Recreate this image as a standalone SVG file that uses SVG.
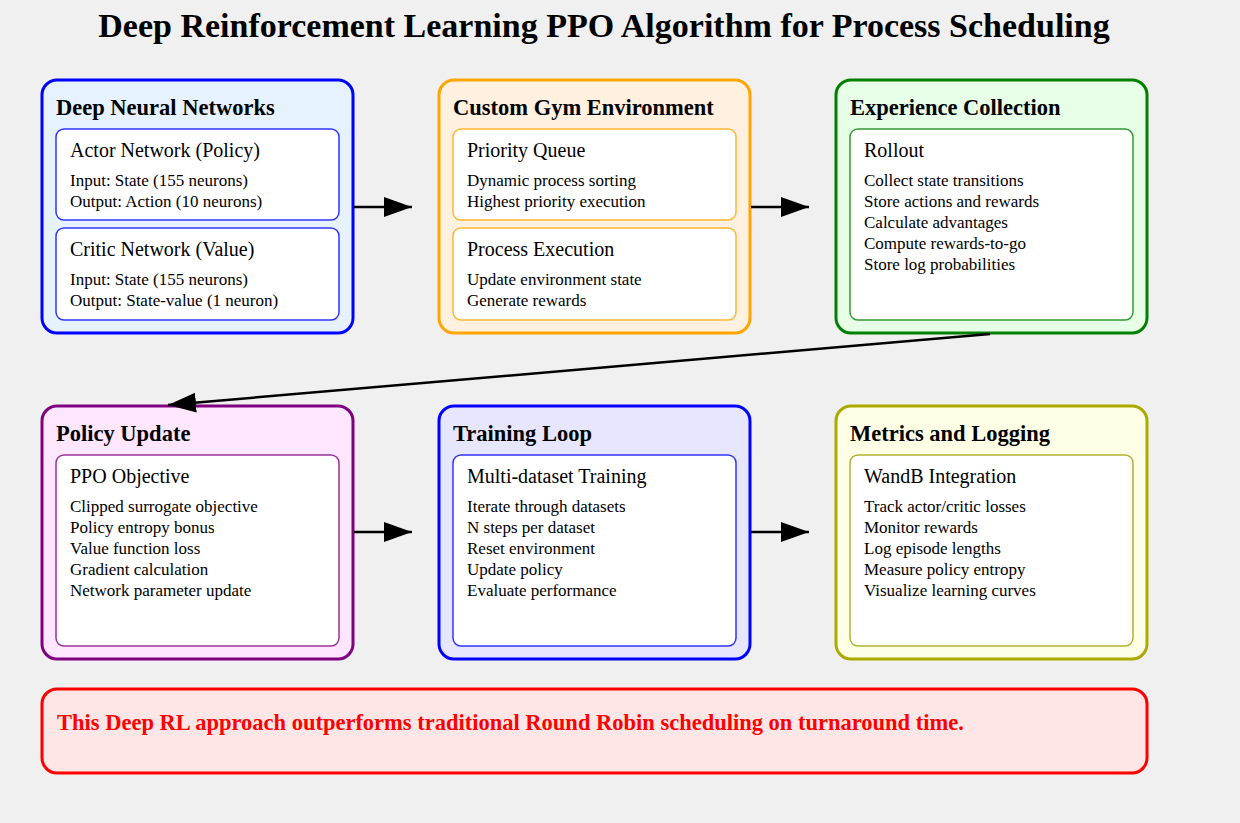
<svg xmlns="http://www.w3.org/2000/svg" width="1240" height="823" viewBox="0 0 1240 823">
  <style>
    text { font-family: "Liberation Serif", "Times New Roman", serif; fill: #000; }
    .title { font-size: 34px; font-weight: bold; }
    .box-title { font-size: 22.5px; font-weight: bold; }
    .sub-title { font-size: 20px; }
    .item { font-size: 17px; }
    .outer { stroke-width: 3; }
    .inner { fill: #ffffff; stroke-width: 1.5; }
    .conn { stroke: #000; stroke-width: 2.5; fill: none; marker-end: url(#arrow); }
    .note { font-size: 22.5px; font-weight: bold; fill: #ff0000; }
  </style>
  <defs>
    <marker id="arrow" markerUnits="userSpaceOnUse" markerWidth="30" markerHeight="22" refX="28" refY="10" orient="auto">
      <path d="M0,0 L28,10 L0,20 Z" fill="#000"/>
    </marker>
  </defs>

  <rect width="1240" height="823" fill="#f0f0f0"/>

  <text class="title" x="604" y="37" text-anchor="middle">Deep Reinforcement Learning PPO Algorithm for Process Scheduling</text>

  <!-- Row 1 -->
  <g id="neural-networks">
    <rect class="outer" x="42" y="80" width="311" height="253" rx="15" fill="#e6f2ff" stroke="#0000ff"/>
    <text class="box-title" x="56" y="115">Deep Neural Networks</text>
    <rect class="inner" x="56" y="129" width="283" height="91" rx="8" stroke="#3333ff"/>
    <text class="sub-title" x="70" y="157">Actor Network (Policy)</text>
    <text class="item" x="70" y="186">Input: State (155 neurons)</text>
    <text class="item" x="70" y="207">Output: Action (10 neurons)</text>
    <rect class="inner" x="56" y="228" width="283" height="92" rx="8" stroke="#3333ff"/>
    <text class="sub-title" x="70" y="256">Critic Network (Value)</text>
    <text class="item" x="70" y="285">Input: State (155 neurons)</text>
    <text class="item" x="70" y="306">Output: State-value (1 neuron)</text>
  </g>

  <g id="gym-environment">
    <rect class="outer" x="439" y="80" width="311" height="253" rx="15" fill="#fff0e0" stroke="#ffa500"/>
    <text class="box-title" x="453" y="115">Custom Gym Environment</text>
    <rect class="inner" x="453" y="129" width="283" height="91" rx="8" stroke="#ffb733"/>
    <text class="sub-title" x="467" y="157">Priority Queue</text>
    <text class="item" x="467" y="186">Dynamic process sorting</text>
    <text class="item" x="467" y="207">Highest priority execution</text>
    <rect class="inner" x="453" y="228" width="283" height="92" rx="8" stroke="#ffb733"/>
    <text class="sub-title" x="467" y="256">Process Execution</text>
    <text class="item" x="467" y="285">Update environment state</text>
    <text class="item" x="467" y="306">Generate rewards</text>
  </g>

  <g id="experience-collection">
    <rect class="outer" x="836" y="80" width="311" height="253" rx="15" fill="#e6ffe6" stroke="#008000"/>
    <text class="box-title" x="850" y="115">Experience Collection</text>
    <rect class="inner" x="850" y="129" width="283" height="191" rx="8" stroke="#339933"/>
    <text class="sub-title" x="864" y="157">Rollout</text>
    <text class="item" x="864" y="186">Collect state transitions</text>
    <text class="item" x="864" y="207">Store actions and rewards</text>
    <text class="item" x="864" y="228">Calculate advantages</text>
    <text class="item" x="864" y="249">Compute rewards-to-go</text>
    <text class="item" x="864" y="270">Store log probabilities</text>
  </g>

  <!-- Row 2 -->
  <g id="policy-update">
    <rect class="outer" x="42" y="406" width="311" height="253" rx="15" fill="#ffe6ff" stroke="#800080"/>
    <text class="box-title" x="56" y="441">Policy Update</text>
    <rect class="inner" x="56" y="455" width="283" height="191" rx="8" stroke="#993399"/>
    <text class="sub-title" x="70" y="483">PPO Objective</text>
    <text class="item" x="70" y="512">Clipped surrogate objective</text>
    <text class="item" x="70" y="533">Policy entropy bonus</text>
    <text class="item" x="70" y="554">Value function loss</text>
    <text class="item" x="70" y="575">Gradient calculation</text>
    <text class="item" x="70" y="596">Network parameter update</text>
  </g>

  <g id="training-loop">
    <rect class="outer" x="439" y="406" width="311" height="253" rx="15" fill="#e6e6ff" stroke="#0000ff"/>
    <text class="box-title" x="453" y="441">Training Loop</text>
    <rect class="inner" x="453" y="455" width="283" height="191" rx="8" stroke="#3333ff"/>
    <text class="sub-title" x="467" y="483">Multi-dataset Training</text>
    <text class="item" x="467" y="512">Iterate through datasets</text>
    <text class="item" x="467" y="533">N steps per dataset</text>
    <text class="item" x="467" y="554">Reset environment</text>
    <text class="item" x="467" y="575">Update policy</text>
    <text class="item" x="467" y="596">Evaluate performance</text>
  </g>

  <g id="metrics-logging">
    <rect class="outer" x="836" y="406" width="311" height="253" rx="15" fill="#ffffe6" stroke="#aaaa00"/>
    <text class="box-title" x="850" y="441">Metrics and Logging</text>
    <rect class="inner" x="850" y="455" width="283" height="191" rx="8" stroke="#b3b333"/>
    <text class="sub-title" x="864" y="483">WandB Integration</text>
    <text class="item" x="864" y="512">Track actor/critic losses</text>
    <text class="item" x="864" y="533">Monitor rewards</text>
    <text class="item" x="864" y="554">Log episode lengths</text>
    <text class="item" x="864" y="575">Measure policy entropy</text>
    <text class="item" x="864" y="596">Visualize learning curves</text>
  </g>

  <!-- Connectors -->
  <g id="connectors">
    <line class="conn" x1="354" y1="207" x2="412" y2="207"/>
    <line class="conn" x1="751" y1="207" x2="809" y2="207"/>
    <line class="conn" x1="990" y1="334" x2="168" y2="405"/>
    <line class="conn" x1="354" y1="532" x2="412" y2="532"/>
    <line class="conn" x1="751" y1="532" x2="809" y2="532"/>
  </g>

  <g id="conclusion">
    <rect x="42" y="689" width="1105" height="84" rx="15" fill="#ffe6e6" stroke="#ff0000" stroke-width="3"/>
    <text class="note" x="57" y="730">This Deep RL approach outperforms traditional Round Robin scheduling on turnaround time.</text>
  </g>
</svg>
